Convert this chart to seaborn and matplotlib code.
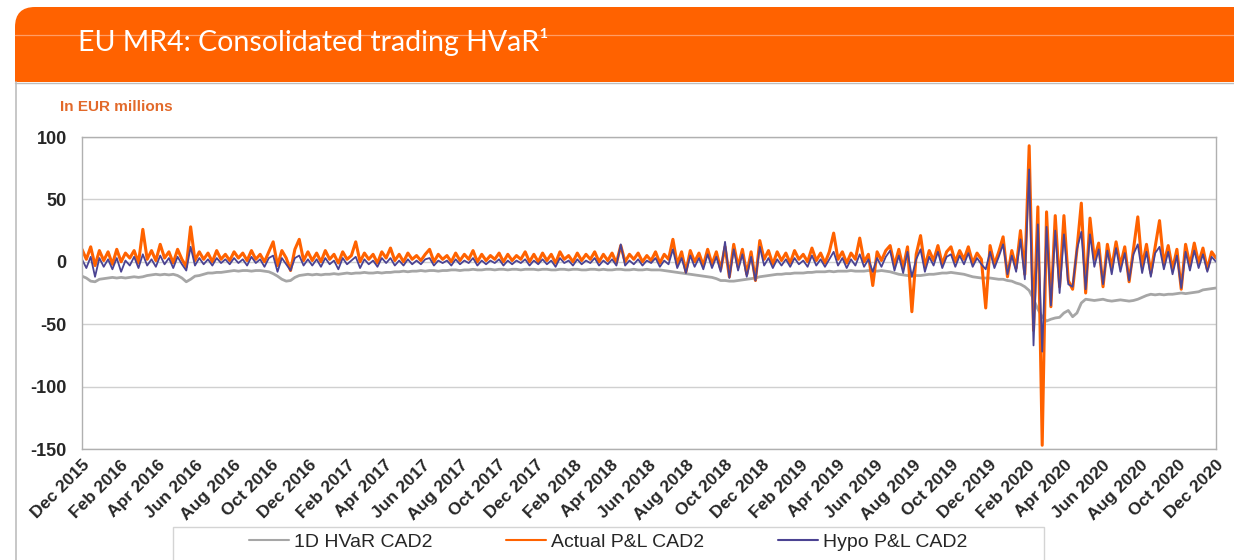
import pandas as pd
import seaborn as sns
import matplotlib as mpl
import matplotlib.pyplot as plt
import matplotlib.dates as mdates
from matplotlib.patches import Rectangle, FancyBboxPatch
from matplotlib.lines import Line2D

# weekly readings, first point 1 Dec 2015, last point 1 Dec 2020 (EUR mln)
start_date = '2015-12-01'

hvar = [
    -11.5, -13, -15.5, -16, -14, -13.5, -13, -12.5, -13, -12.5,
    -13, -12.5, -12, -12.5, -12, -11, -10.5, -10, -10.5, -10,
    -10.5, -10, -11, -13, -16, -14, -11.5, -11, -10, -9,
    -9, -8.5, -8.5, -8, -7.5, -7, -7.5, -7, -7, -7.5,
    -7, -7, -7.5, -8, -9.5, -11.5, -14, -15.5, -15, -12.5,
    -11, -10.5, -10, -10.5, -10, -10.5, -10, -10, -9.5, -10,
    -9.5, -9, -9.5, -9, -9, -8.5, -9, -9, -8.5, -9,
    -8.5, -8.5, -8, -8, -7.5, -8, -7.5, -7.5, -7, -7.5,
    -7, -7, -7.5, -7, -7, -6.5, -6.5, -7, -6.5, -6.5,
    -6, -6.5, -6.5, -6, -6, -6.5, -6, -6, -6.5, -6,
    -6, -6.5, -6, -6, -6, -6.5, -6, -6, -6.5, -6.5,
    -6, -6, -6.5, -6, -6, -6.5, -6.5, -6, -6, -6.5,
    -6, -6.5, -6.5, -6, -6, -6.5, -6.5, -6, -6.5, -6.5,
    -6, -6.5, -6.5, -6.5, -7, -7.5, -8, -8.5, -9, -9.5,
    -10, -10.5, -11, -11.5, -12, -12.5, -13.5, -15, -15, -15.5,
    -15.5, -15, -14.5, -14, -13.5, -13, -12, -11.5, -11, -10.5,
    -10, -10, -9.5, -9.5, -9, -9, -9, -8.5, -8.5, -8,
    -8, -8, -7.5, -8, -7.5, -7.5, -7.5, -7, -7.5, -7.5,
    -7.5, -7, -7.5, -7.5, -7, -7.5, -8, -9, -10, -10.5,
    -11, -11.5, -11, -11, -10.5, -10, -10, -9.5, -9, -9,
    -8.5, -9, -9.5, -10, -11, -12, -12.5, -13, -13, -13,
    -13.5, -14, -14, -15, -15.5, -17, -18, -20, -23, -30,
    -38, -44, -47.5, -46, -45, -44.5, -41, -39, -44, -41,
    -33, -30, -30.5, -31, -30.5, -30, -31, -31.5, -31, -30.5,
    -31, -31.5, -31, -30, -28.5, -27, -26, -26.5, -26, -26.5,
    -26, -26, -25.5, -25, -25.5, -25, -24.5, -24, -22.5, -22,
    -21.5, -21,
]

actual_pl = [
    10, 2, 12, -3, 9, 1, 8, -2, 10, 0,
    7, 3, 9, -1, 26, 2, 9, 1, 14, 3,
    8, -1, 10, 2, -4, 28, 1, 8, 2, 7,
    0, 9, 2, 6, 1, 8, 3, 7, 1, 9,
    2, 6, 0, 8, 16, -3, 9, 3, -7, 10,
    18, 1, 8, 1, 7, 0, 9, 2, 6, -1,
    8, 2, 5, 16, 0, 7, 2, 6, -1, 8,
    3, 11, 1, 6, 0, 7, 2, 5, 1, 6,
    10, 0, 6, 2, 5, 0, 7, 1, 6, 2,
    9, 0, 6, 1, 5, 2, 7, 0, 6, 1,
    5, 2, 8, 0, 6, 0, 7, 1, 6, -1,
    8, 2, 5, 0, 7, 1, 6, 2, 8, 0,
    6, 1, 7, -1, 13, 0, 6, 2, 7, 0,
    5, 1, 8, -1, 6, 2, 18, -2, 8, -8,
    9, 0, 7, -3, 10, -2, 8, -6, 12, -12,
    14, -4, 10, -10, 8, -15, 17, 2, 9, -2,
    8, 1, 7, -1, 9, 2, 6, 0, 11, 1,
    7, -1, 8, 23, 2, 8, -1, 7, 2, 19,
    0, 6, -19, 8, 1, 9, 13, -3, 10, -5,
    12, -40, 6, 21, -4, 9, 1, 13, -2, 8,
    12, 0, 9, 2, 12, -1, 7, 2, -37, 13,
    -2, 8, 20, -12, 9, -5, 25, -10, 93, -55,
    44, -147, 40, -36, 37, -20, 37, -15, -22, 10,
    47, -25, 35, 2, 15, -20, 14, -5, 16, -3,
    12, -16, 10, 36, -4, 14, -9, 12, 33, -2,
    13, -6, 10, -22, 14, -3, 15, -1, 11, -6,
    8, 3,
]

hypo_pl = [
    2, -5, 4, -12, 3, -4, 2, -6, 3, -8,
    1, -3, 4, -5, 6, -3, 2, -4, 5, -2,
    3, -5, 4, -2, -7, 12, -3, 3, -2, 2,
    -3, 3, -1, 2, -2, 3, -1, 2, -3, 4,
    -1, 2, -4, 3, 5, -8, 3, -2, -7, 3,
    5, -3, 2, -3, 2, -4, 3, -2, 1, -6,
    3, -2, 1, 4, -5, 2, -2, 1, -4, 3,
    -1, 3, -3, 1, -3, 2, -2, 1, -2, 2,
    3, -3, 1, -1, 1, -3, 2, -2, 1, -1,
    3, -3, 1, -2, 1, -1, 2, -3, 1, -2,
    1, -1, 2, -3, 1, -2, 2, -2, 1, -4,
    3, -1, 1, -3, 2, -2, 1, -1, 3, -3,
    1, -2, 2, -3, 14, -3, 1, -2, 2, -3,
    1, -1, 3, -4, 1, -2, 10, -5, 3, -9,
    5, -4, 3, -6, 6, -5, 4, -8, 16, -13,
    10, -7, 6, -12, 4, -15, 12, -3, 3, -5,
    2, -3, 2, -4, 3, -2, 1, -4, 5, -3,
    2, -4, 2, 8, -3, 3, -5, 2, -3, 6,
    -4, 2, -8, 3, -4, 4, 9, -7, 5, -9,
    8, -12, 2, 10, -8, 4, -3, 8, -5, 4,
    6, -4, 5, -2, 7, -4, 3, -2, -6, 8,
    -5, 4, 14, -10, 5, -8, 18, -14, 74, -67,
    30, -72, 28, -35, 25, -25, 22, -18, -20, 10,
    24, -22, 22, -4, 10, -18, 9, -10, 11, -8,
    7, -15, 6, 14, -9, 8, -12, 7, 12, -6,
    8, -10, 5, -21, 8, -7, 9, -5, 6, -8,
    4, 0,
]

series_names = ['1D HVaR CAD2', 'Actual P&L CAD2', 'Hypo P&L CAD2']
series_colors = ['#a6a6a6', '#ff6200', '#4b4392']
y_ticks = [100, 50, 0, -50, -100, -150]

assert len(hvar) == len(actual_pl) == len(hypo_pl) == 262

sns.set_theme(style='white')
plt.rcParams['font.family'] = ['Liberation Sans', 'DejaVu Sans']
plt.rcParams['axes.unicode_minus'] = False

dates = pd.date_range(start_date, periods=len(hvar), freq='7D')
df = pd.DataFrame({'date': dates, 'hvar': hvar, 'actual': actual_pl, 'hypo': hypo_pl})

W, H = 1234, 560
fig = plt.figure(figsize=(W / 100, H / 100), dpi=100)
fig.patch.set_facecolor('white')
# pixel coordinates, origin top-left
pix = mpl.transforms.Affine2D().scale(1 / W, -1 / H).translate(0, 1) + fig.transFigure

# orange header band with rounded top-left corner
fig.patches.append(FancyBboxPatch((15, 7), 1260, 75, boxstyle='round,pad=0,rounding_size=20',
                                  transform=pix, fc='#ff6200', ec='none', zorder=0))
fig.patches.append(Rectangle((15, 40), 1260, 42, transform=pix, fc='#ff6200', ec='none', zorder=0))
fig.lines.append(Line2D([15, W], [35, 35], transform=pix, color='#ff9d66', lw=0.9))
fig.lines.append(Line2D([15, W], [82.5, 82.5], transform=pix, color='#bdbdbd', lw=1))
fig.lines.append(Line2D([15.5, 15.5], [82, H], transform=pix, color='#bdbdbd', lw=1.2))

fig.text(78, 42, 'EU MR4: Consolidated trading HVaR\u00b9', transform=pix, color='white',
         fontsize=20.5, family=['Lato', 'DejaVu Sans'], va='center', ha='left')
fig.text(60, 107, 'In EUR millions', transform=pix, color='#e2692a', fontsize=11,
         fontweight='bold', va='center', ha='left')

ax = fig.add_axes([82 / W, 1 - 449 / H, (1216 - 82) / W, (449 - 137) / H])
sns.lineplot(data=df, x='date', y='hvar', ax=ax, color=series_colors[0], lw=2.0)
sns.lineplot(data=df, x='date', y='actual', ax=ax, color=series_colors[1], lw=2.2)
sns.lineplot(data=df, x='date', y='hypo', ax=ax, color=series_colors[2], lw=1.3)

ax.set_xlim(pd.Timestamp('2015-12-01'), pd.Timestamp('2020-12-01'))
ax.set_ylim(-150, 100)
ax.set_yticks(y_ticks)
ax.set_xlabel('')
ax.set_ylabel('')

ax.xaxis.set_major_locator(mdates.MonthLocator(bymonth=[2, 4, 6, 8, 10, 12]))
ax.xaxis.set_major_formatter(mdates.DateFormatter('%b %Y'))
ax.xaxis.set_minor_locator(mdates.MonthLocator(bymonth=[12]))
ax.grid(which='major', axis='y', color='#d0d0d0', lw=1)
ax.grid(which='minor', axis='x', color='#ebebeb', lw=1)
ax.tick_params(axis='x', which='both', length=0, pad=6)
ax.tick_params(axis='y', length=5, width=1, color='#bdbdbd', pad=6)
for lab in ax.get_xticklabels():
    lab.set_rotation(45)
    lab.set_ha('right')
    lab.set_va('top')
    lab.set_rotation_mode('anchor')
    lab.set_fontsize(12.5)
    lab.set_fontweight('bold')
for lab in ax.get_yticklabels():
    lab.set_fontsize(13)
    lab.set_fontweight('bold')
for s in ax.spines.values():
    s.set_color('#b0b0b0')
    s.set_linewidth(1)

# legend below the axis
fig.patches.append(Rectangle((173, 527), 871, 60, transform=pix, fc='white', ec='#d4d4d4', lw=1))
handles = [Line2D([], [], color=c, lw=1.5) for c in series_colors]
fig.legend(handles, series_names, loc='center', bbox_to_anchor=(608 / W, 1 - 542 / H), ncol=3,
           frameon=False, fontsize=14, handlelength=2.05, handletextpad=0.25, columnspacing=3.8)

fig.savefig('out.png', dpi=100, facecolor='white')
